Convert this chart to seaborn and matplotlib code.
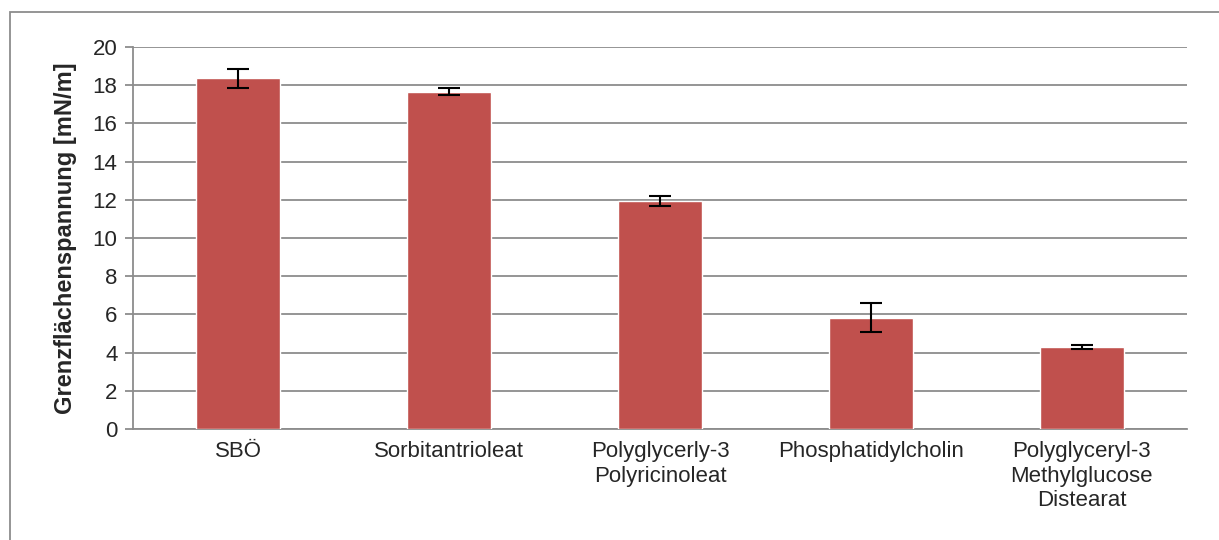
import numpy as np
import pandas as pd
import matplotlib.pyplot as plt
import seaborn as sns
from matplotlib.patches import Rectangle

categories = ['SBÖ', 'Sorbitantrioleat', 'Polyglycerly-3\nPolyricinoleat',
              'Phosphatidylcholin', 'Polyglyceryl-3\nMethylglucose\nDistearat']
values = [18.35, 17.65, 11.95, 5.83, 4.3]
errors = [0.5, 0.18, 0.26, 0.76, 0.1]

df = pd.DataFrame({'Stoff': categories, 'Wert': values})

sns.set_style('white')
plt.rcParams['font.family'] = ['Liberation Sans', 'DejaVu Sans']

fig = plt.figure(figsize=(12.19, 5.4), dpi=100)
ax = fig.add_axes([0.109, 0.2056, 0.865, 0.7074])

sns.barplot(data=df, x='Stoff', y='Wert', color='#C0504D', width=0.4,
            saturation=1, errorbar=None, ax=ax, zorder=3)
ax.errorbar(np.arange(len(values)), values, yerr=errors, fmt='none',
            ecolor='black', elinewidth=1.5, capsize=8, capthick=1.5, zorder=4)

ax.set_ylim(0, 20)
ax.set_xlim(-0.5, len(values) - 0.5)
ax.set_yticks(range(0, 21, 2))
ax.grid(axis='y', color='#8c8c8c', linewidth=1.3, zorder=0)
ax.set_axisbelow(True)

for s in ['top', 'right']:
    ax.spines[s].set_visible(False)
for s in ['left', 'bottom']:
    ax.spines[s].set_color('#8c8c8c')
    ax.spines[s].set_linewidth(1.3)

ax.set_xticks(np.arange(-0.5, len(values), 1.0), minor=True)
ax.tick_params(axis='x', which='major', length=0, pad=9, labelsize=16)
ax.tick_params(axis='x', which='minor', length=7, width=1.3, color='#8c8c8c', direction='out')
ax.tick_params(axis='y', length=6, width=1.3, color='#8c8c8c', direction='out', labelsize=16,
               left=True, pad=5)

ax.set_xlabel('')
ax.set_ylabel('Grenzflächenspannung [mN/m]', fontsize=17, fontweight='bold', labelpad=11)

# border around the chart area (only left and top edges fall inside the image)
fig.patches.append(Rectangle((10 / 1219, -0.05), 1.1, 1.05 - 12 / 540, transform=fig.transFigure,
                             fill=False, edgecolor='#8c8c8c', linewidth=1.3))

fig.savefig('out.png', dpi=100)
